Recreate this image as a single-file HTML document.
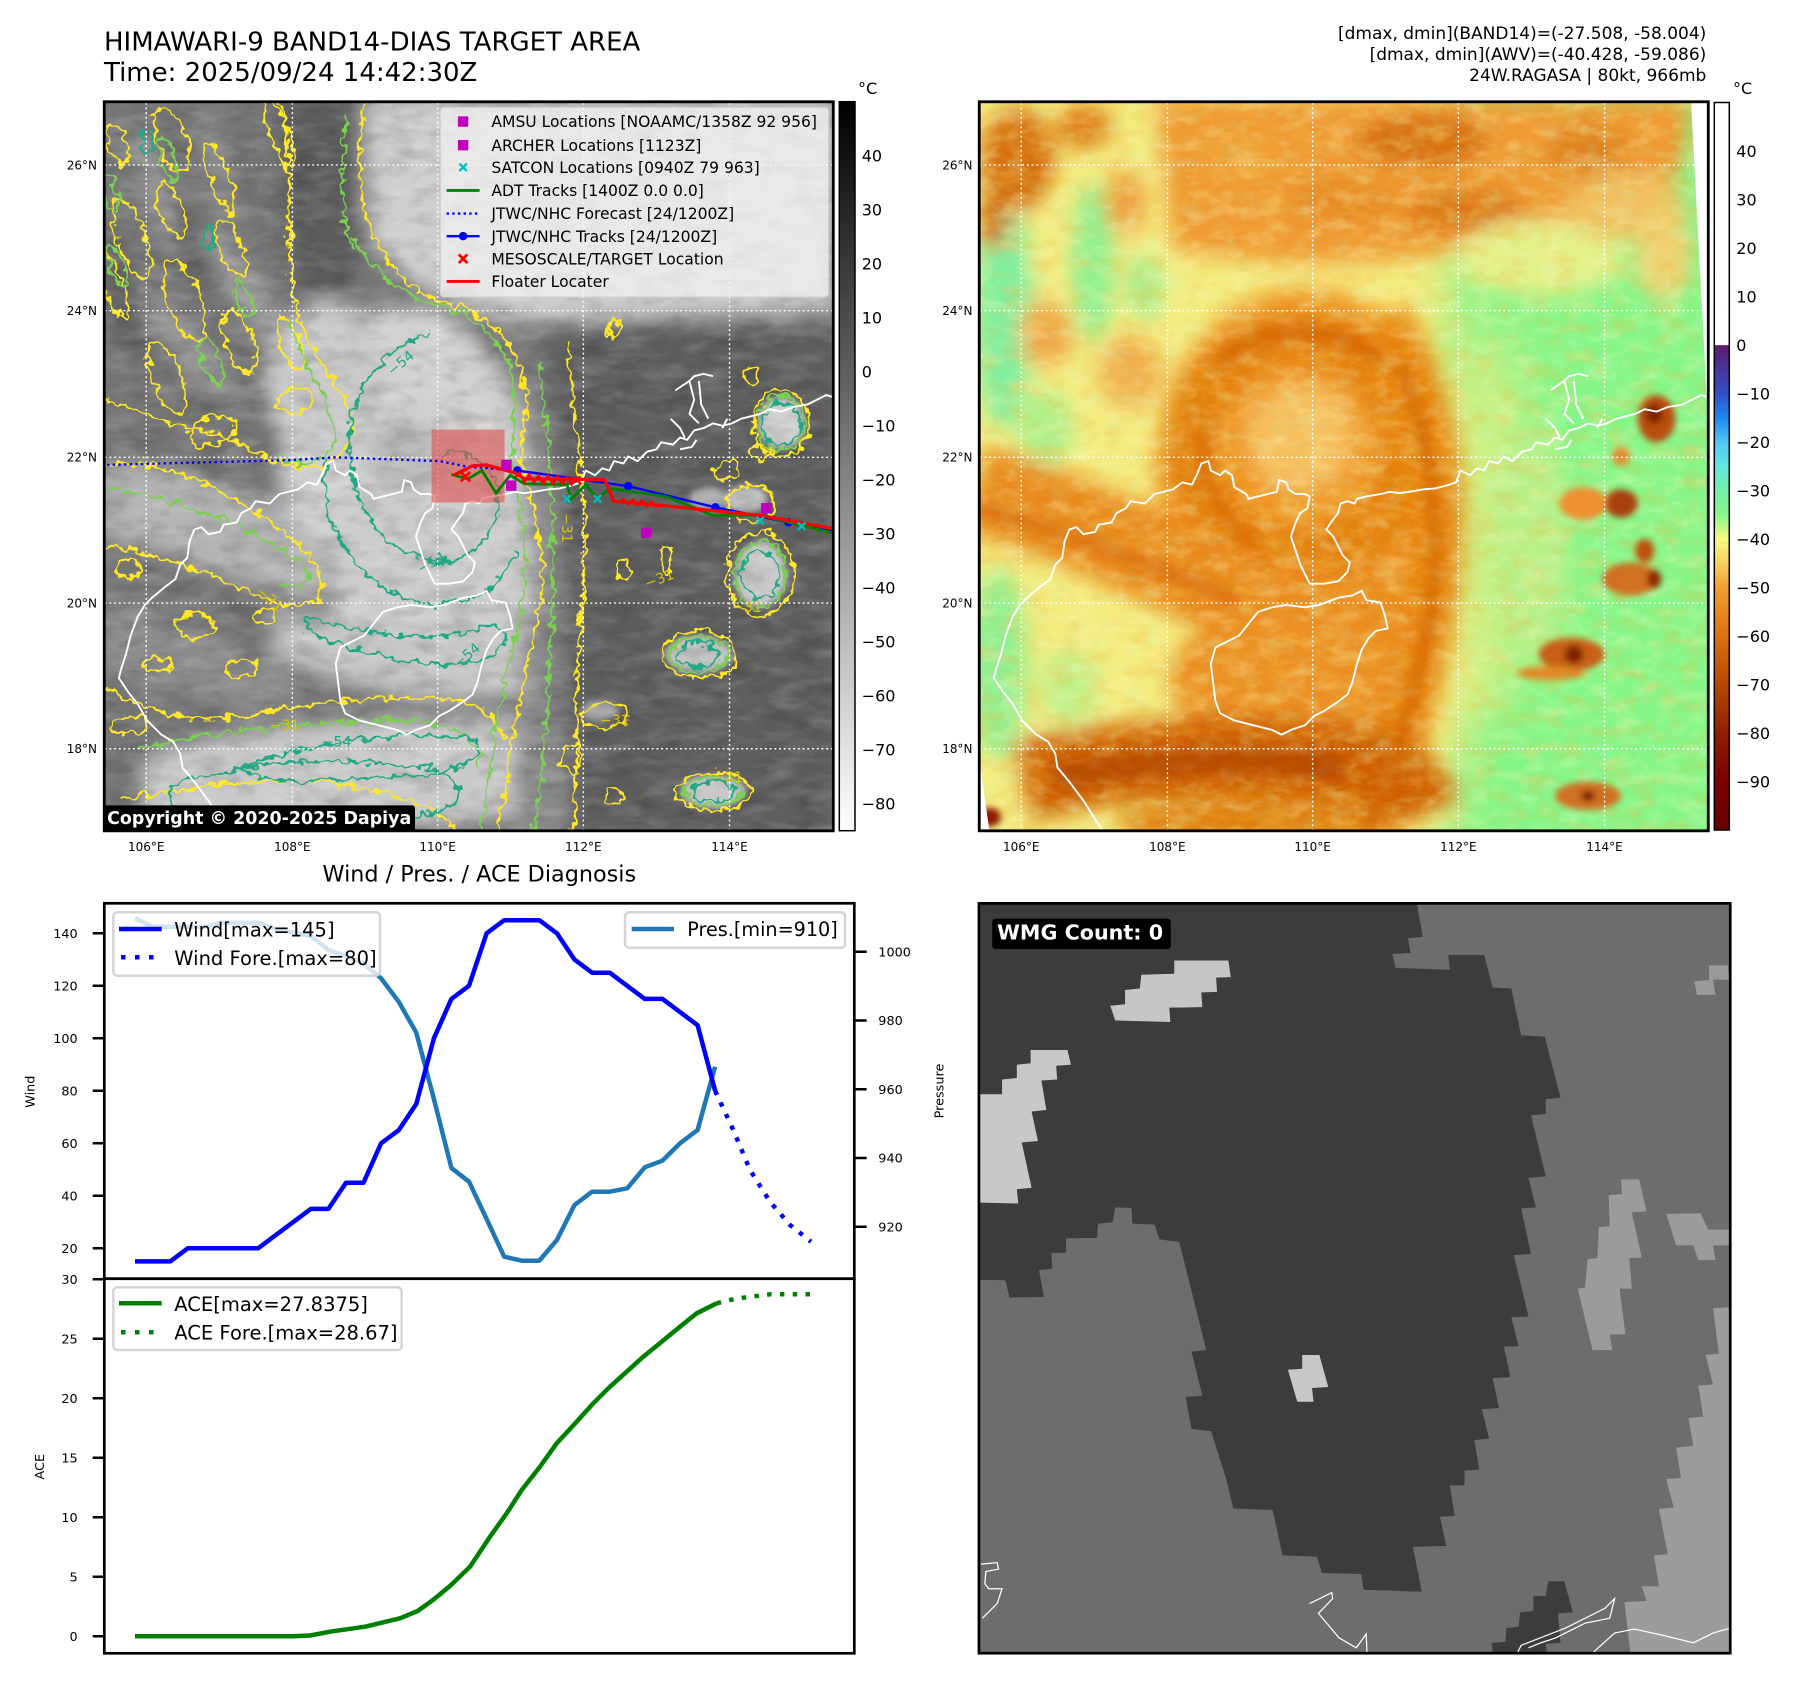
<!DOCTYPE html>
<html><head><meta charset="utf-8"><style>body{margin:0;background:#fff}svg{display:block}text{font-family:"DejaVu Sans","Liberation Sans",sans-serif}</style></head>
<body>
<svg xmlns="http://www.w3.org/2000/svg" width="1797" height="1690" viewBox="0 0 1797 1690">
<defs>
<linearGradient id="cb1" x1="0" y1="0" x2="0" y2="1"><stop offset="0" stop-color="#000"/><stop offset="1" stop-color="#fff"/></linearGradient>
<linearGradient id="cb2" x1="0" y1="0" x2="0" y2="1">
<stop offset="0" stop-color="#fff"/><stop offset="0.333" stop-color="#fff"/><stop offset="0.334" stop-color="#5e1a6e"/>
<stop offset="0.4" stop-color="#3050c8"/><stop offset="0.433" stop-color="#1a88f0"/><stop offset="0.467" stop-color="#50c8f8"/>
<stop offset="0.5" stop-color="#60e8e0"/><stop offset="0.533" stop-color="#70f0a8"/><stop offset="0.567" stop-color="#88f888"/>
<stop offset="0.6" stop-color="#f8f880"/><stop offset="0.633" stop-color="#f8d060"/><stop offset="0.667" stop-color="#f0a030"/>
<stop offset="0.733" stop-color="#e07010"/><stop offset="0.8" stop-color="#b84800"/><stop offset="0.867" stop-color="#902000"/>
<stop offset="0.933" stop-color="#7c0000"/><stop offset="1" stop-color="#6a0000"/></linearGradient>
<filter id="bl" x="-50%" y="-50%" width="200%" height="200%"><feGaussianBlur stdDeviation="22"/></filter>
<filter id="bxl" x="-50%" y="-50%" width="200%" height="200%"><feGaussianBlur stdDeviation="45"/></filter>
<filter id="bs" x="-50%" y="-50%" width="200%" height="200%"><feGaussianBlur stdDeviation="7"/></filter>
<filter id="bm" x="-50%" y="-50%" width="200%" height="200%"><feGaussianBlur stdDeviation="13"/></filter>
<filter id="wig" x="-10%" y="-10%" width="120%" height="120%"><feTurbulence type="fractalNoise" baseFrequency="0.05" numOctaves="2" seed="4" result="t"/><feDisplacementMap in="SourceGraphic" in2="t" scale="30" xChannelSelector="R" yChannelSelector="G"/></filter>
<filter id="nzw" x="0" y="0" width="100%" height="100%"><feTurbulence type="fractalNoise" baseFrequency="0.012 0.035" numOctaves="3" seed="7"/><feColorMatrix type="matrix" values="0 0 0 0 1  0 0 0 0 1  0 0 0 0 1  2.4 0 0 0 -1.05"/></filter>
<filter id="nzd" x="0" y="0" width="100%" height="100%"><feTurbulence type="fractalNoise" baseFrequency="0.015 0.03" numOctaves="3" seed="19"/><feColorMatrix type="matrix" values="0 0 0 0 0  0 0 0 0 0  0 0 0 0 0  2.4 0 0 0 -1.05"/></filter>
<filter id="nzy" x="0" y="0" width="100%" height="100%"><feTurbulence type="fractalNoise" baseFrequency="0.02 0.035" numOctaves="3" seed="11"/><feColorMatrix type="matrix" values="0 0 0 0 0.97  0 0 0 0 0.96  0 0 0 0 0.5  2.6 0 0 0 -1.15"/></filter>
<filter id="nzo" x="0" y="0" width="100%" height="100%"><feTurbulence type="fractalNoise" baseFrequency="0.018 0.03" numOctaves="3" seed="23"/><feColorMatrix type="matrix" values="0 0 0 0 0.88  0 0 0 0 0.48  0 0 0 0 0.05  2.6 0 0 0 -1.2"/></filter>
<filter id="nzg" x="0" y="0" width="100%" height="100%"><feTurbulence type="fractalNoise" baseFrequency="0.025 0.04" numOctaves="3" seed="31"/><feColorMatrix type="matrix" values="0 0 0 0 0.52  0 0 0 0 0.96  0 0 0 0 0.55  2.6 0 0 0 -1.2"/></filter>
<clipPath id="c1"><rect x="9" y="8" width="1546" height="1546"/></clipPath>
<clipPath id="c3"><rect x="8" y="17" width="1527" height="1524"/></clipPath>
</defs>
<rect width="1797" height="1690" fill="#fff"/>

<text x="104" y="50.7" font-size="26">HIMAWARI-9 BAND14-DIAS TARGET AREA</text>
<text x="104" y="81" font-size="26">Time: 2025/09/24 14:42:30Z</text>
<g font-size="17" text-anchor="end">
<text x="1706.3" y="39">[dmax, dmin](BAND14)=(-27.508, -58.004)</text>
<text x="1706.3" y="60">[dmax, dmin](AWV)=(-40.428, -59.086)</text>
<text x="1706.3" y="81">24W.RAGASA | 80kt, 966mb</text>
</g>

<!-- ===== PANEL 1 ===== -->
<svg x="100" y="98" width="738" height="738" viewBox="0 0 1565 1565">
<g clip-path="url(#c1)">
<rect width="1565" height="1565" fill="#767676"/>
<g filter="url(#bl)">
<path d="M560,0 L1565,0 L1565,450 L1000,470 L880,480 L760,440 L640,380 L570,300 Z" fill="#cfcfcf"/>
<path d="M380,0 L540,0 L540,200 L555,330 L500,420 L425,430 L405,300 Z" fill="#5c5c5c"/>
<ellipse cx="120" cy="200" rx="30" ry="150" transform="rotate(-20 120 200)" fill="#9a9a9a"/>
<ellipse cx="250" cy="150" rx="25" ry="140" transform="rotate(-15 250 150)" fill="#929292"/>
<ellipse cx="320" cy="420" rx="30" ry="160" transform="rotate(-30 320 420)" fill="#a4a4a4"/>
<ellipse cx="180" cy="520" rx="40" ry="150" transform="rotate(-40 180 520)" fill="#9a9a9a"/>
<ellipse cx="60" cy="450" rx="30" ry="120" transform="rotate(-20 60 450)" fill="#5e5e5e"/>
<ellipse cx="200" cy="330" rx="25" ry="100" transform="rotate(-20 200 330)" fill="#606060"/>
<rect x="950" y="480" width="615" height="1085" fill="#5e5e5e"/>
<path d="M880,500 C960,700 1000,900 980,1200 L1000,1565 L860,1565 C880,1300 900,1000 880,800 Z" fill="#8a8a8a"/>
<ellipse cx="640" cy="780" rx="260" ry="340" fill="#d2d2d2"/>
<ellipse cx="700" cy="1000" rx="220" ry="280" fill="#cccccc"/>
<ellipse cx="480" cy="600" rx="130" ry="170" fill="#cacaca"/>
<ellipse cx="650" cy="760" rx="90" ry="80" fill="#bababa"/>
<path d="M0,770 C150,770 350,840 470,930 C520,990 500,1060 430,1060 C300,1040 150,960 0,930 Z" fill="#b4b4b4"/>
<path d="M380,1080 C520,1120 700,1160 880,1120 L900,1260 C720,1300 520,1260 360,1180 Z" fill="#c6c6c6"/>
<path d="M90,1400 C300,1330 600,1300 880,1320 L880,1520 C620,1565 300,1565 90,1530 Z" fill="#cacaca"/>
<path d="M0,1050 C150,1080 300,1150 420,1250 L400,1330 C250,1300 100,1250 0,1220 Z" fill="#8c8c8c"/>
</g>
<g filter="url(#bs)">
<ellipse cx="1445" cy="690" rx="50" ry="55" fill="#cfcfcf"/>
<ellipse cx="1370" cy="850" rx="45" ry="30" fill="#c0c0c0"/>
<ellipse cx="1290" cy="850" rx="40" ry="25" fill="#b0b0b0"/>
<ellipse cx="1400" cy="1010" rx="55" ry="70" fill="#c8c8c8"/>
<ellipse cx="1270" cy="1180" rx="70" ry="40" fill="#c0c0c0"/>
<ellipse cx="1300" cy="1470" rx="70" ry="35" fill="#c8c8c8"/>
<ellipse cx="1060" cy="1300" rx="40" ry="20" fill="#aaaaaa"/>
</g>
<rect width="1565" height="1565" filter="url(#nzw)" opacity="0.16"/>
<rect width="1565" height="1565" filter="url(#nzd)" opacity="0.14"/>
<g fill="none" stroke-width="5" filter="url(#wig)">
<g stroke="#fde725">
<path d="M560,10 C545,120 540,250 600,330 C650,400 700,430 760,440 C830,470 880,520 900,600 C915,680 880,740 900,800 C930,900 950,1000 930,1100 C910,1200 880,1300 870,1400 C860,1480 850,1530 840,1560"/>
<path d="M385,10 C410,120 395,260 405,380 C415,500 470,560 520,640 C560,700 520,760 470,780 C380,800 300,720 200,700 C120,690 60,650 10,640"/>
<path d="M10,780 C100,760 200,800 300,860 C380,900 450,960 470,1020 C480,1080 420,1090 350,1060 C250,1020 120,960 10,950"/>
<path d="M10,1250 C100,1300 200,1330 300,1310 C420,1290 550,1270 700,1270 C780,1270 830,1300 860,1360"/>
<path d="M40,1490 C150,1470 300,1440 450,1450 C600,1460 700,1500 760,1550"/>
<path d="M990,520 C1010,700 1040,900 1020,1100 C1000,1300 1020,1450 1000,1560"/>
<g transform="rotate(-20 200 400)">
<ellipse cx="60" cy="80" rx="25" ry="60"/><ellipse cx="150" cy="60" rx="20" ry="45"/><ellipse cx="260" cy="90" rx="30" ry="70"/>
<ellipse cx="330" cy="200" rx="20" ry="80"/><ellipse cx="110" cy="260" rx="30" ry="90"/><ellipse cx="210" cy="230" rx="25" ry="60"/>
<ellipse cx="40" cy="340" rx="20" ry="70"/><ellipse cx="300" cy="350" rx="25" ry="60"/><ellipse cx="170" cy="420" rx="35" ry="90"/>
<ellipse cx="80" cy="560" rx="30" ry="80"/><ellipse cx="250" cy="540" rx="30" ry="70"/><ellipse cx="350" cy="580" rx="20" ry="60"/>
<ellipse cx="130" cy="700" rx="50" ry="30"/><ellipse cx="320" cy="700" rx="40" ry="25"/><ellipse cx="480" cy="150" rx="20" ry="80"/>
</g>
<ellipse cx="60" cy="1000" rx="30" ry="20"/><ellipse cx="200" cy="1120" rx="40" ry="25"/><ellipse cx="120" cy="1200" rx="30" ry="15"/>
<ellipse cx="300" cy="1210" rx="35" ry="20"/><ellipse cx="350" cy="1100" rx="20" ry="15"/><ellipse cx="60" cy="1330" rx="40" ry="20"/>
<ellipse cx="1445" cy="690" rx="60" ry="70"/><ellipse cx="1380" cy="860" rx="50" ry="40"/><ellipse cx="1400" cy="1010" rx="70" ry="90"/>
<ellipse cx="1270" cy="1180" rx="80" ry="50"/><ellipse cx="1300" cy="1470" rx="80" ry="40"/><ellipse cx="1070" cy="1310" rx="50" ry="25"/>
<ellipse cx="1110" cy="1000" rx="15" ry="25"/><ellipse cx="1200" cy="980" rx="15" ry="30"/><ellipse cx="1330" cy="790" rx="25" ry="20"/>
<ellipse cx="1400" cy="750" rx="20" ry="15"/><ellipse cx="1000" cy="1400" rx="20" ry="30"/><ellipse cx="1090" cy="1480" rx="20" ry="15"/>
<ellipse cx="1090" cy="490" rx="12" ry="18"/><ellipse cx="1380" cy="590" rx="15" ry="20"/>
</g>
<g stroke="#7ad151">
<path d="M535,290 C580,380 650,420 720,440 C800,460 860,520 875,600 C890,700 860,760 880,820 C900,900 910,1000 890,1100 C870,1200 840,1300 830,1400 C820,1480 810,1530 800,1560"/>
<path d="M400,470 C430,570 490,640 500,720 C480,780 420,790 380,760"/>
<path d="M10,830 C150,840 300,900 420,980 C460,1020 440,1050 380,1030"/>
<path d="M80,1380 C250,1340 450,1320 650,1320 C780,1330 820,1380 800,1420"/>
<path d="M520,30 C520,150 500,250 540,320"/>
<path d="M930,560 C960,800 970,1000 950,1250 C940,1400 930,1500 920,1560"/>
<g transform="rotate(-20 200 400)">
<ellipse cx="100" cy="150" rx="15" ry="40"/><ellipse cx="240" cy="130" rx="15" ry="50"/><ellipse cx="60" cy="300" rx="15" ry="50"/>
<ellipse cx="180" cy="560" rx="20" ry="50"/><ellipse cx="290" cy="460" rx="15" ry="40"/>
</g>
<ellipse cx="1445" cy="690" rx="50" ry="58"/><ellipse cx="1400" cy="1010" rx="55" ry="70"/><ellipse cx="1270" cy="1180" rx="62" ry="38"/><ellipse cx="1300" cy="1470" rx="62" ry="30"/>
</g>
<g stroke="#22a884">
<path d="M700,500 C580,540 520,640 530,760 C540,880 600,960 700,980 C800,1000 860,900 840,820 C820,760 760,740 720,760"/>
<path d="M480,760 C460,880 520,1000 640,1060 C760,1100 860,1040 880,960"/>
<path d="M440,1100 C560,1140 700,1160 820,1120 C860,1110 880,1150 840,1180 C760,1220 600,1200 440,1130 Z"/>
<path d="M300,1420 C450,1360 650,1340 800,1360 C820,1400 750,1440 600,1440 C450,1450 350,1460 300,1420 Z"/>
<path d="M150,1460 C300,1400 500,1400 700,1420 C780,1440 780,1500 700,1520 C500,1540 300,1530 150,1500 Z"/>
<ellipse cx="1445" cy="690" rx="40" ry="45"/><ellipse cx="1400" cy="1010" rx="40" ry="50"/><ellipse cx="1270" cy="1180" rx="45" ry="25"/><ellipse cx="1300" cy="1470" rx="45" ry="20"/>
<ellipse cx="100" cy="90" rx="10" ry="25"/><ellipse cx="230" cy="300" rx="10" ry="30"/>
</g>
</g>
<g font-size="30">
<text x="620" y="590" fill="#22a884" transform="rotate(-40 620 590)">−54</text>
<text x="680" y="1010" fill="#22a884" transform="rotate(-30 680 1010)">−54</text>
<text x="760" y="1210" fill="#22a884" transform="rotate(-40 760 1210)">−54</text>
<text x="470" y="1375" fill="#22a884">−54</text>
<text x="980" y="880" fill="#d8c400" transform="rotate(90 980 880)">−31</text>
<text x="1160" y="1040" fill="#d8c400" transform="rotate(-20 1160 1040)">−31</text>
<text x="1340" y="1090" fill="#d8c400">−31</text>
<text x="360" y="1340" fill="#d8c400">−31</text>
<text x="1060" y="1330" fill="#d8c400">−31</text>
<text x="1300" y="1450" fill="#d8c400">−31</text>
<text x="330" y="1050" fill="#d8c400" transform="rotate(40 330 1050)">−31</text>
</g>
<g fill="none" stroke="#fff" stroke-width="4" stroke-linejoin="round">
<path d="M200,915 L215,910 L230,925 L255,920 L262,905 L290,900 L300,880 L320,870 L330,855 L360,860 L380,840 L420,830 L440,815 L460,820 L470,800 L480,775 L495,770 L500,790 L520,800 L530,790 L545,800 L550,825 L575,840 L580,850 L600,845 L640,835 L645,810 L660,815 L665,830 L680,840 L700,840 L710,845 L705,870 L690,880 L680,900 L670,930 L680,960 L690,990 L700,1010 L710,1030 L740,1030 L770,1025 L790,1005 L795,985 L780,970 L770,950 L760,930 L745,915 L755,900 L770,880 L775,860 L790,855 L805,860 L810,850 L830,845 L860,840 L880,835 L900,838 L920,835 L950,830 L975,828 L1000,822 L1020,815 L1030,790 L1050,800 L1065,785 L1080,790 L1090,770 L1110,775 L1120,760 L1140,770 L1160,750 L1180,745 L1190,730 L1215,735 L1230,720 L1245,725 L1260,705 L1280,700 L1300,690 L1320,695 L1340,690 L1360,680 L1380,675 L1400,670 L1420,660 L1445,665 L1470,655 L1500,650 L1520,640 L1540,630 L1557,635"/>
<path d="M200,915 L190,940 L185,975 L170,990 L160,1020 L140,1035 L110,1060 L95,1075 L80,1100 L65,1140 L55,1180 L45,1210 L40,1230 L60,1260 L80,1285 L100,1320 L130,1350 L155,1365 L170,1390 L175,1420 L200,1450 L230,1490 L255,1530 L275,1560"/>
<path d="M510,1165 L560,1140 L600,1090 L630,1080 L660,1075 L700,1080 L730,1075 L770,1060 L800,1055 L820,1045 L830,1065 L860,1070 L870,1100 L875,1125 L850,1130 L835,1145 L820,1170 L810,1200 L800,1240 L790,1265 L770,1280 L740,1300 L720,1310 L700,1330 L670,1340 L650,1350 L630,1340 L590,1330 L550,1320 L520,1305 L510,1280 L505,1240 L500,1200 Z"/>
<path d="M1220,620 L1250,600 L1260,590 L1280,585 L1300,590 M1250,600 L1260,640 L1250,670 L1270,690 M1210,680 L1230,700 L1240,720 M1270,600 L1275,650 L1290,680 M1330,680 L1320,700 M1230,745 L1255,740 L1265,725"/>
</g>
<g stroke="#fff" stroke-width="3" stroke-dasharray="4 6">
<path d="M98,0V1565M408,0V1565M716,0V1565M1025,0V1565M1335,0V1565M0,142H1565M0,451H1565M0,762H1565M0,1071H1565M0,1380H1565"/>
</g>
<rect x="703" y="703" width="155" height="155" fill="#e05050" opacity="0.6"/>
<path d="M15,778 L400,768 L500,762 L720,770 L780,782 L860,788" fill="none" stroke="#0000ff" stroke-width="5" stroke-dasharray="5 7"/>
<path d="M885,790 L1120,823 L1305,868 L1460,900 L1565,922" fill="none" stroke="#0000ff" stroke-width="5"/>
<g fill="#0000ff"><circle cx="885" cy="790" r="9"/><circle cx="1120" cy="823" r="9"/><circle cx="1305" cy="868" r="9"/><circle cx="1460" cy="900" r="9"/></g>
<path d="M745,798 L780,808 L810,790 L840,838 L870,800 L900,818 L990,820 L1000,850 L1030,820 L1055,850 L1080,828 L1200,845 L1300,885 L1400,885 L1565,925" fill="none" stroke="#008000" stroke-width="6"/>
<path d="M750,800 L790,780 L820,778 L880,795 L900,808 L1000,808 L1070,810 L1090,855 L1200,865 L1400,885 L1565,915" fill="none" stroke="#ff0000" stroke-width="7"/>
<path d="M880,805 L890,795 L900,815 L910,798 L920,815 L930,800 L940,818 L950,800 L960,818 L970,802 L980,818 L990,805 L1000,820 L1010,805 L1020,820 M1100,858 L1110,850 L1120,862 L1130,852 L1140,864 L1150,854 L1160,866 L1170,856 L1180,868" fill="none" stroke="#ff0000" stroke-width="5"/>
<g stroke="#00bfbf" stroke-width="5"><path d="M982,842 L998,858 M998,842 L982,858 M1047,842 L1063,858 M1063,842 L1047,858 M1392,888 L1408,904 M1408,888 L1392,904 M1480,900 L1496,916 M1496,900 L1480,916"/></g>
<g fill="#bf00bf"><rect x="851" y="767" width="22" height="22"/><rect x="861" y="811" width="22" height="22"/><rect x="1147" y="911" width="22" height="22"/><rect x="1402" y="859" width="22" height="22"/></g>
<path d="M765,793 L785,813 M785,793 L765,813" stroke="#ff0000" stroke-width="6"/>
<rect x="722" y="20" width="823" height="402" rx="8" fill="#f2f2f2" fill-opacity="0.72" stroke="#d0d0d0" stroke-width="2"/>
<g font-size="33">
<text x="830" y="62">AMSU Locations [NOAAMC/1358Z 92 956]</text>
<text x="830" y="112">ARCHER Locations [1123Z]</text>
<text x="830" y="159">SATCON Locations [0940Z 79 963]</text>
<text x="830" y="208">ADT Tracks [1400Z 0.0 0.0]</text>
<text x="830" y="257">JTWC/NHC Forecast [24/1200Z]</text>
<text x="830" y="305">JTWC/NHC Tracks [24/1200Z]</text>
<text x="830" y="353">MESOSCALE/TARGET Location</text>
<text x="830" y="401">Floater Locater</text>
</g>
<rect x="759" y="39" width="22" height="22" fill="#bf00bf"/>
<rect x="759" y="89" width="22" height="22" fill="#bf00bf"/>
<path d="M762,139 L778,155 M778,139 L762,155" stroke="#00bfbf" stroke-width="5"/>
<path d="M735,196 H805" stroke="#008000" stroke-width="6"/>
<path d="M735,245 H805" stroke="#0000ff" stroke-width="5" stroke-dasharray="5 7"/>
<path d="M735,293 H805" stroke="#0000ff" stroke-width="5"/><circle cx="770" cy="293" r="9" fill="#0000ff"/>
<path d="M761,332 L779,350 M779,332 L761,350" stroke="#ff0000" stroke-width="6"/>
<path d="M735,389 H805" stroke="#ff0000" stroke-width="6"/>
<rect x="3" y="1500" width="665" height="57" rx="6" fill="#000"/>
<text x="15" y="1540" font-size="37" font-weight="bold" fill="#fff">Copyright © 2020-2025 Dapiya</text>
</g>
<rect x="9" y="8" width="1546" height="1546" fill="none" stroke="#000" stroke-width="6"/>
</svg>

<rect x="839.3" y="101.7" width="15.7" height="729" fill="url(#cb1)" stroke="#000" stroke-width="1.5"/>
<text x="858" y="94" font-size="16">°C</text>
<g font-size="16">
<text x="861.7" y="161.5">40</text><text x="861.7" y="215.5">30</text><text x="861.7" y="269.5">20</text><text x="861.7" y="323.5">10</text>
<text x="861.7" y="377.5">0</text><text x="861.7" y="431.5">−10</text><text x="861.7" y="485.5">−20</text><text x="861.7" y="539.5">−30</text>
<text x="861.7" y="593.5">−40</text><text x="861.7" y="647.5">−50</text><text x="861.7" y="701.5">−60</text><text x="861.7" y="755.5">−70</text>
<text x="861.7" y="809.5">−80</text>
</g>
<g font-size="12" text-anchor="end">
<text x="97" y="169.3">26°N</text><text x="97" y="315">24°N</text><text x="97" y="461.6">22°N</text><text x="97" y="607.3">20°N</text><text x="97" y="753.1">18°N</text>
<text x="972.5" y="169.3">26°N</text><text x="972.5" y="315">24°N</text><text x="972.5" y="461.6">22°N</text><text x="972.5" y="607.3">20°N</text><text x="972.5" y="753.1">18°N</text>
</g>
<g font-size="12" text-anchor="middle">
<text x="146.2" y="851">106°E</text><text x="292.4" y="851">108°E</text><text x="437.6" y="851">110°E</text><text x="583.4" y="851">112°E</text><text x="729.5" y="851">114°E</text>
<text x="1021.2" y="851">106°E</text><text x="1167.4" y="851">108°E</text><text x="1312.6" y="851">110°E</text><text x="1458.4" y="851">112°E</text><text x="1604.5" y="851">114°E</text>
</g>

<!-- ===== PANEL 2 ===== -->
<svg x="975" y="98" width="738" height="738" viewBox="0 0 1565 1565">
<g clip-path="url(#c1)">
<rect width="1565" height="1565" fill="#86f688"/>
<g filter="url(#bxl)">
<path d="M-100,-100 L1020,-100 L1010,450 C960,620 1040,800 1060,1000 C1080,1200 1010,1400 990,1665 L-100,1665 Z" fill="#f4ec80"/>
<ellipse cx="1090" cy="900" rx="90" ry="420" fill="#c8f082"/>
</g>
<g filter="url(#bl)">
<ellipse cx="60" cy="450" rx="60" ry="250" fill="#80f0a0"/>
<ellipse cx="250" cy="350" rx="45" ry="170" fill="#90f090"/>
<ellipse cx="150" cy="700" rx="60" ry="80" fill="#b0f088"/>
<ellipse cx="360" cy="400" rx="40" ry="70" fill="#a8f090"/>
<ellipse cx="50" cy="1200" rx="60" ry="200" fill="#90f090"/>
<ellipse cx="200" cy="1250" rx="60" ry="80" fill="#c0f088"/>
<ellipse cx="90" cy="130" rx="80" ry="110" fill="#d87010"/>
<ellipse cx="230" cy="60" rx="60" ry="50" fill="#e08018"/>
<ellipse cx="40" cy="260" rx="35" ry="60" fill="#d07010"/>
<ellipse cx="320" cy="220" rx="45" ry="70" fill="#f0a040"/>
<ellipse cx="150" cy="500" rx="60" ry="70" fill="#f0a848"/>
<ellipse cx="330" cy="580" rx="70" ry="80" fill="#f0b050"/>
<path d="M380,0 L1520,0 L1500,150 C1400,260 1200,300 1000,330 C800,360 600,360 420,320 Z" fill="#f09a30"/>
<ellipse cx="950" cy="90" rx="140" ry="55" fill="#d86e10"/>
<ellipse cx="1040" cy="240" rx="130" ry="45" fill="#dc7814"/>
<ellipse cx="1300" cy="110" rx="90" ry="55" fill="#e08420"/>
<ellipse cx="780" cy="220" rx="110" ry="50" fill="#e88a20"/>
<ellipse cx="560" cy="120" rx="90" ry="60" fill="#f0a030"/>
<ellipse cx="1200" cy="340" rx="180" ry="80" fill="#e4f088"/>
<ellipse cx="1380" cy="230" rx="130" ry="70" fill="#f0c060"/>
<ellipse cx="1460" cy="330" rx="60" ry="100" fill="#f0d070"/>
<ellipse cx="1180" cy="950" rx="80" ry="250" fill="#b8f088"/>
<ellipse cx="700" cy="800" rx="320" ry="400" fill="#f09828"/>
<circle cx="690" cy="740" r="230" fill="none" stroke="#e4800f" stroke-width="120"/>
<circle cx="690" cy="720" r="110" fill="#f6c060"/>
<path d="M860,470 C950,600 990,800 970,1000 C950,1200 890,1400 830,1565" fill="none" stroke="#e88410" stroke-width="120"/>
<path d="M0,830 C200,880 380,980 560,1060 C700,1110 820,1100 900,1050" fill="none" stroke="#ea8a1c" stroke-width="190"/>
<ellipse cx="650" cy="1230" rx="240" ry="140" fill="#ec9020"/>
<path d="M100,1450 C300,1400 550,1380 800,1410 C880,1420 920,1460 950,1520" fill="none" stroke="#d06000" stroke-width="170"/>
<ellipse cx="600" cy="1535" rx="300" ry="50" fill="#e08010"/>
</g>
<rect width="1565" height="1565" filter="url(#nzy)" opacity="0.3"/>
<rect width="1565" height="1565" filter="url(#nzo)" opacity="0.3"/>
<rect width="1565" height="1565" filter="url(#nzg)" opacity="0.15"/>
<g filter="url(#bm)" fill="none" opacity="0.75">
<path d="M900,560 C980,750 990,950 960,1120 C930,1300 870,1450 830,1560" stroke="#d06400" stroke-width="28"/>
<path d="M0,870 C200,920 400,1000 560,1070" stroke="#d87010" stroke-width="34"/>
<path d="M170,1440 C350,1410 550,1390 780,1420" stroke="#b04400" stroke-width="55"/>
<path d="M520,560 C600,480 760,470 870,560" stroke="#d06000" stroke-width="30"/>
<path d="M480,700 C470,800 520,900 600,950" stroke="#d86800" stroke-width="28"/>
</g>
<g filter="url(#bs)">
<ellipse cx="1445" cy="680" rx="40" ry="50" fill="#b84e10"/><ellipse cx="1440" cy="670" rx="18" ry="20" fill="#7a2000"/>
<ellipse cx="1370" cy="860" rx="35" ry="30" fill="#a84010"/>
<ellipse cx="1290" cy="860" rx="50" ry="35" fill="#f09030"/>
<ellipse cx="1420" cy="960" rx="20" ry="25" fill="#c05010"/>
<ellipse cx="1390" cy="1020" rx="60" ry="35" fill="#d07020"/><ellipse cx="1440" cy="1020" rx="15" ry="20" fill="#902800"/>
<ellipse cx="1265" cy="1180" rx="70" ry="35" fill="#c86018"/><ellipse cx="1270" cy="1180" rx="20" ry="20" fill="#802000"/>
<ellipse cx="1220" cy="1220" rx="70" ry="15" fill="#e08a28"/>
<ellipse cx="1300" cy="1480" rx="70" ry="30" fill="#d07020"/><ellipse cx="1300" cy="1480" rx="15" ry="12" fill="#802000"/>
<ellipse cx="1370" cy="760" rx="20" ry="20" fill="#e09030"/>
<ellipse cx="30" cy="1525" rx="25" ry="20" fill="#901800"/>
</g>
<polygon points="1518,0 1565,0 1565,660 1552,640" fill="#fff"/>
<polygon points="0,1400 9,1400 32,1565 0,1565" fill="#fff"/>
<g fill="none" stroke="#fff" stroke-width="4" stroke-linejoin="round">
<path d="M200,915 L215,910 L230,925 L255,920 L262,905 L290,900 L300,880 L320,870 L330,855 L360,860 L380,840 L420,830 L440,815 L460,820 L470,800 L480,775 L495,770 L500,790 L520,800 L530,790 L545,800 L550,825 L575,840 L580,850 L600,845 L640,835 L645,810 L660,815 L665,830 L680,840 L700,840 L710,845 L705,870 L690,880 L680,900 L670,930 L680,960 L690,990 L700,1010 L710,1030 L740,1030 L770,1025 L790,1005 L795,985 L780,970 L770,950 L760,930 L745,915 L755,900 L770,880 L775,860 L790,855 L805,860 L810,850 L830,845 L860,840 L880,835 L900,838 L920,835 L950,830 L975,828 L1000,822 L1020,815 L1030,790 L1050,800 L1065,785 L1080,790 L1090,770 L1110,775 L1120,760 L1140,770 L1160,750 L1180,745 L1190,730 L1215,735 L1230,720 L1245,725 L1260,705 L1280,700 L1300,690 L1320,695 L1340,690 L1360,680 L1380,675 L1400,670 L1420,660 L1445,665 L1470,655 L1500,650 L1520,640 L1540,630 L1557,635"/>
<path d="M200,915 L190,940 L185,975 L170,990 L160,1020 L140,1035 L110,1060 L95,1075 L80,1100 L65,1140 L55,1180 L45,1210 L40,1230 L60,1260 L80,1285 L100,1320 L130,1350 L155,1365 L170,1390 L175,1420 L200,1450 L230,1490 L255,1530 L275,1560"/>
<path d="M510,1165 L560,1140 L600,1090 L630,1080 L660,1075 L700,1080 L730,1075 L770,1060 L800,1055 L820,1045 L830,1065 L860,1070 L870,1100 L875,1125 L850,1130 L835,1145 L820,1170 L810,1200 L800,1240 L790,1265 L770,1280 L740,1300 L720,1310 L700,1330 L670,1340 L650,1350 L630,1340 L590,1330 L550,1320 L520,1305 L510,1280 L505,1240 L500,1200 Z"/>
<path d="M1220,620 L1250,600 L1260,590 L1280,585 L1300,590 M1250,600 L1260,640 L1250,670 L1270,690 M1210,680 L1230,700 L1240,720 M1270,600 L1275,650 L1290,680 M1330,680 L1320,700 M1230,745 L1255,740 L1265,725"/>
</g>
<g stroke="#fff" stroke-width="3" stroke-dasharray="4 6">
<path d="M98,0V1565M408,0V1565M716,0V1565M1025,0V1565M1335,0V1565M0,142H1565M0,451H1565M0,762H1565M0,1071H1565M0,1380H1565"/>
</g>
</g>
<rect x="9" y="8" width="1546" height="1546" fill="none" stroke="#000" stroke-width="6"/>
</svg>

<rect x="1714.3" y="102.5" width="15" height="727.5" fill="url(#cb2)" stroke="#000" stroke-width="1.5"/>
<text x="1733" y="94" font-size="16">°C</text>
<g font-size="16">
<text x="1736.3" y="156.8">40</text><text x="1736.3" y="205.3">30</text><text x="1736.3" y="253.8">20</text><text x="1736.3" y="302.3">10</text>
<text x="1736.3" y="350.8">0</text><text x="1736.3" y="399.3">−10</text><text x="1736.3" y="447.8">−20</text><text x="1736.3" y="496.3">−30</text>
<text x="1736.3" y="544.8">−40</text><text x="1736.3" y="593.3">−50</text><text x="1736.3" y="641.8">−60</text><text x="1736.3" y="690.3">−70</text>
<text x="1736.3" y="738.8">−80</text><text x="1736.3" y="787.3">−90</text>
</g>

<!-- ===== Wind / Pres / ACE ===== -->
<text x="479.3" y="881.7" font-size="22.3" text-anchor="middle">Wind / Pres. / ACE Diagnosis</text>
<g stroke="#000" stroke-width="2.5">
<path d="M92.7,933.3H104.3M92.7,985.8H104.3M92.7,1038.3H104.3M92.7,1090.8H104.3M92.7,1143.3H104.3M92.7,1195.8H104.3M92.7,1248.3H104.3"/>
<path d="M854.3,951.7H866.7M854.3,1020.45H866.7M854.3,1089.2H866.7M854.3,1157.95H866.7M854.3,1226.7H866.7"/>
<path d="M92.7,1279.3H104.3M92.7,1338.8H104.3M92.7,1398.3H104.3M92.7,1457.8H104.3M92.7,1517.3H104.3M92.7,1576.8H104.3M92.7,1636.3H104.3"/>
</g>
<g font-size="12.8" text-anchor="end">
<text x="77.7" y="938">140</text><text x="77.7" y="990.5">120</text><text x="77.7" y="1043">100</text><text x="77.7" y="1095.5">80</text>
<text x="77.7" y="1148">60</text><text x="77.7" y="1200.5">40</text><text x="77.7" y="1253">20</text>
<text x="77.7" y="1284">30</text><text x="77.7" y="1343.5">25</text><text x="77.7" y="1403">20</text><text x="77.7" y="1462.5">15</text>
<text x="77.7" y="1522">10</text><text x="77.7" y="1581.5">5</text><text x="77.7" y="1641">0</text>
</g>
<g font-size="12.8">
<text x="878.3" y="956.4">1000</text><text x="878.3" y="1025.2">980</text><text x="878.3" y="1093.9">960</text><text x="878.3" y="1162.6">940</text><text x="878.3" y="1231.4">920</text>
</g>
<text transform="translate(34.7,1091.7) rotate(-90)" font-size="12.8" text-anchor="middle">Wind</text>
<text transform="translate(44,1466.7) rotate(-90)" font-size="12.8" text-anchor="middle">ACE</text>
<text transform="translate(943.7,1091) rotate(-90)" font-size="12.8" text-anchor="middle">Pressure</text>

<g fill="none" stroke-width="4.5" stroke-linejoin="round">
<polyline stroke="#1f77b4" points="135,918.3 152.6,926.7 170.2,926.7 187.7,926.7 205.3,926.7 222.9,922.7 240.5,922.7 258.1,922.7 275.6,929.3 293.2,932.5 310.8,936 328.4,950 346,956 363.5,963.3 381.1,978.3 398.7,1001.7 416.3,1032.7 433.9,1099 451.4,1168 469,1181.7 486.6,1219 504.2,1256.7 521.8,1260.7 539.3,1260.7 556.9,1240 574.5,1205 592.1,1191.7 609.7,1191.7 627.2,1188.3 644.8,1167.3 662.4,1160.7 680,1143.3 697.6,1130 715.1,1066.7"/>
<polyline stroke="#0000ff" points="135,1261.4 152.6,1261.4 170.2,1261.4 187.7,1248.3 205.3,1248.3 222.9,1248.3 240.5,1248.3 258.1,1248.3 275.6,1235.2 293.2,1222.1 310.8,1208.9 328.4,1208.9 346,1182.7 363.5,1182.7 381.1,1143.3 398.7,1130.2 416.3,1103.9 433.9,1038.3 451.4,998.9 469,985.8 486.6,933.3 504.2,920.2 521.8,920.2 539.3,920.2 556.9,933.3 574.5,959.6 592.1,972.7 609.7,972.7 627.2,985.8 644.8,998.9 662.4,998.9 680,1012.1 697.6,1025.2 715.1,1090.8"/>
<polyline stroke="#0000ff" stroke-dasharray="4.5 8.3" points="715.1,1090.8 733.3,1130 750,1170 770,1201.7 790,1225 811,1241.7"/>
<polyline stroke="#008000" points="135,1636.3 293,1636.3 310,1635.5 330,1631.7 365,1626.7 400,1618.3 417.7,1611 433,1600 450,1586 470,1566.7 490,1536.7 506.7,1513.3 521.7,1490 540,1466.7 556.7,1443.3 576.7,1421.7 593.3,1403.3 610,1386.7 626.7,1371.7 643.3,1356.7 661.7,1341.7 680,1326.7 696.7,1313.3 716.7,1303.3"/>
<polyline stroke="#008000" stroke-dasharray="4.5 8.3" points="716.7,1303.3 730,1300 743.3,1297.7 756.7,1296 770,1294.3 790,1294.3 811,1294.3"/>
</g>
<rect x="113.3" y="912.3" width="266.7" height="63.4" rx="4" fill="#fff" fill-opacity="0.8" stroke="#d5d5d5" stroke-width="2.5"/>
<path d="M119,929 H161.7" stroke="#0000ff" stroke-width="4.5"/>
<path d="M121,957.3 H161.7" stroke="#0000ff" stroke-width="4.5" stroke-dasharray="4.5 9.5"/>
<g font-size="19.5">
<text x="174.3" y="936.7">Wind[max=145]</text>
<text x="174.3" y="965">Wind Fore.[max=80]</text>
</g>
<rect x="625" y="912.3" width="220" height="35.4" rx="4" fill="#fff" fill-opacity="0.8" stroke="#d5d5d5" stroke-width="2.5"/>
<path d="M631.7,929 H674" stroke="#1f77b4" stroke-width="4.5"/>
<text x="687.3" y="936" font-size="19.2">Pres.[min=910]</text>
<rect x="113.3" y="1287.3" width="288.4" height="62.7" rx="4" fill="#fff" fill-opacity="0.8" stroke="#d5d5d5" stroke-width="2.5"/>
<path d="M119,1303.3 H161.7" stroke="#008000" stroke-width="4.5"/>
<path d="M121,1332.3 H161.7" stroke="#008000" stroke-width="4.5" stroke-dasharray="4.5 9.5"/>
<g font-size="19.5">
<text x="174.3" y="1311">ACE[max=27.8375]</text>
<text x="174.3" y="1339.3">ACE Fore.[max=28.67]</text>
</g>
<rect x="104.3" y="903.3" width="750" height="375.4" fill="none" stroke="#000" stroke-width="2.7"/>
<rect x="104.3" y="1278.7" width="750" height="374.6" fill="none" stroke="#000" stroke-width="2.7"/>

<!-- ===== WMG panel ===== -->
<svg x="975" y="895" width="770" height="770" viewBox="0 0 1565 1565">
<g clip-path="url(#c3)">
<rect width="1565" height="1565" fill="#6d6d6d"/>
<polygon fill="#3c3c3c" points="0,0 895,0 910,85 880,88 885,118 848,120 855,148 965,152 962,122 1035,122 1052,188 1090,190 1110,285 1158,288 1190,412 1160,415 1160,445 1130,448 1160,572 1125,575 1140,635 1110,637 1130,730 1095,732 1125,857 1090,858 1105,917 1075,918 1088,980 1052,982 1065,1043 1030,1045 1045,1105 1015,1108 1025,1168 995,1170 995,1200 965,1200 975,1262 945,1264 958,1323 890,1325 908,1416 790,1412 785,1380 705,1378 695,1345 625,1342 605,1250 525,1247 510,1185 480,1090 440,1085 428,1020 462,1018 440,928 470,925 415,705 375,700 365,670 320,668 318,636 285,635 280,665 250,668 248,697 185,698 185,727 155,728 157,760 130,762 140,817 70,818 62,783 0,782"/>
<polygon fill="#c6c6c6" points="275,225 305,222 305,193 335,190 338,162 405,160 405,133 515,133 520,167 490,168 492,197 460,198 462,228 395,229 397,258 285,255"/>
<polygon fill="#c8c8c8" points="0,405 55,405 55,375 85,372 85,345 113,342 113,315 188,315 195,345 165,347 167,375 135,377 145,437 115,440 128,500 95,503 115,595 85,598 88,627 0,625"/>
<polygon fill="#c8c8c8" points="636,965 665,963 665,935 700,935 718,1000 685,1002 688,1030 655,1030"/>
<polygon fill="#9a9a9a" points="1462,175 1492,173 1492,143 1530,143 1533,172 1500,172 1505,203 1467,203"/>
<polygon fill="#9b9b9b" points="1245,740 1265,738 1268,675 1290,673 1288,610 1315,608 1313,578 1350,578 1365,643 1335,645 1355,737 1330,738 1335,800 1310,800 1322,893 1290,893 1295,925 1255,925 1225,800 1240,798"/>
<polygon fill="#9b9b9b" points="1405,648 1475,647 1490,680 1535,680 1535,712 1500,712 1505,742 1470,742 1460,712 1425,712"/>
<polygon fill="#9c9c9c" points="1565,835 1500,840 1512,932 1485,935 1500,995 1470,997 1480,1060 1450,1063 1460,1120 1425,1123 1435,1185 1405,1187 1420,1245 1390,1248 1408,1340 1380,1342 1390,1405 1355,1405 1365,1435 1320,1437 1335,1565 1565,1565"/>
<polygon fill="#3c3c3c" points="1050,1520 1078,1518 1080,1490 1105,1487 1108,1458 1135,1455 1135,1425 1160,1425 1165,1395 1198,1395 1215,1458 1185,1460 1190,1520 1160,1522 1165,1565 1055,1565"/>
<g fill="none" stroke="#fff" stroke-width="2.5">
<polyline points="12,1360 45,1357 48,1370 22,1375 20,1400 28,1410 55,1410 45,1440 15,1470"/>
<polyline points="680,1440 725,1418 727,1430 698,1460 740,1510 775,1530 795,1502 798,1565"/>
<polyline points="1100,1545 1110,1525 1200,1490 1240,1470 1280,1450 1300,1430 1290,1470 1240,1480 1180,1510 1150,1520 1125,1530"/>
<polyline points="1250,1545 1300,1500 1340,1492 1400,1505 1460,1520 1500,1500 1535,1490"/>
</g>
<rect x="35" y="48" width="363" height="62" rx="7" fill="#000"/>
<text x="45" y="90" font-size="42" font-weight="bold" fill="#fff">WMG Count: 0</text>
</g>
<rect x="8" y="17" width="1527" height="1524" fill="none" stroke="#000" stroke-width="5.5"/>
</svg>
</svg>
</body></html>
